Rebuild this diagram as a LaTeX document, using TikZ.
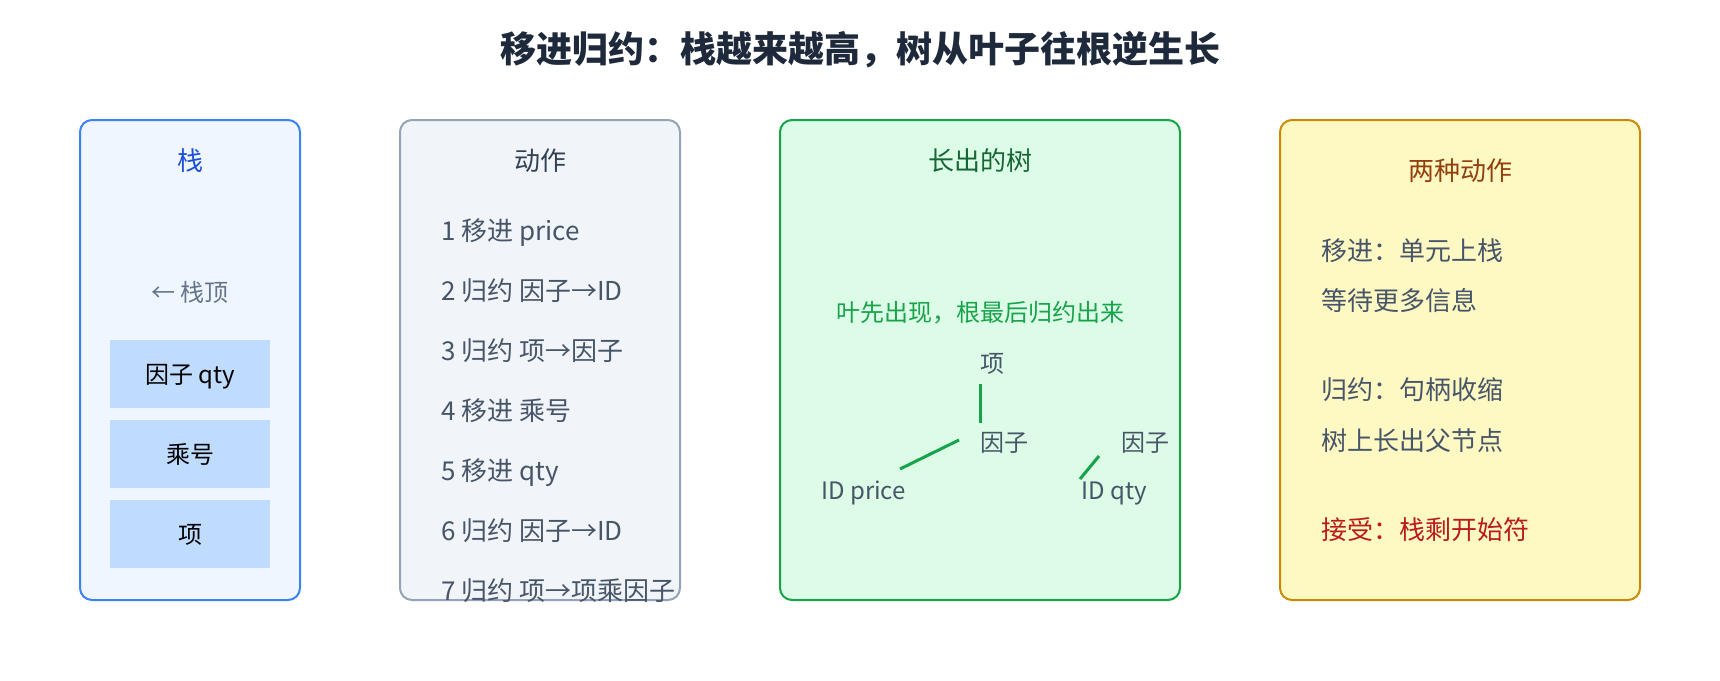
\documentclass[tikz,border=0pt]{standalone}
\usepackage{fontspec}
\setmainfont{Noto Sans CJK SC}

\definecolor{titleink}{HTML}{1E293B}
\definecolor{stackline}{HTML}{3B82F6}
\definecolor{stackfill}{HTML}{EFF6FF}
\definecolor{stackhead}{HTML}{1D4ED8}
\definecolor{cellfill}{HTML}{BFDBFE}
\definecolor{actline}{HTML}{94A3B8}
\definecolor{actfill}{HTML}{F1F5F9}
\definecolor{acthead}{HTML}{334155}
\definecolor{bodyink}{HTML}{475569}
\definecolor{mutedink}{HTML}{64748B}
\definecolor{treeline}{HTML}{16A34A}
\definecolor{treefill}{HTML}{DCFCE7}
\definecolor{treehead}{HTML}{166534}
\definecolor{kindline}{HTML}{CA8A04}
\definecolor{kindfill}{HTML}{FEF9C3}
\definecolor{kindhead}{HTML}{92400E}
\definecolor{acceptink}{HTML}{B91C1C}

\newcommand\rowgap{60}
\newcommand\cellgap{80}
\newcommand\bigfont{\fontsize{26pt}{30pt}\selectfont}
\newcommand\smallfont{\fontsize{24pt}{28pt}\selectfont}

\begin{document}
\begin{tikzpicture}[x=1pt,y=-1pt,
    panel/.style={line width=2pt,rounded corners=12pt},
    txt/.style={inner sep=0pt},
    big/.style={txt,font=\bigfont,text height=20.8pt,text depth=1pt},
    small/.style={txt,font=\smallfont,text height=19.2pt,text depth=1pt},
    head/.style={big},
    line/.style={big,text=bodyink,anchor=west},
    leaf/.style={small,text=bodyink,anchor=west},
    cellbox/.style={small,fill=cellfill,minimum width=160pt,minimum height=68pt},
    edge/.style={draw=treeline,line width=3pt}]
  \useasboundingbox (0,0) rectangle (1720,680);

  \node[txt,font=\fontsize{36pt}{40pt}\selectfont\bfseries,text height=28.8pt,text depth=1.4pt,text=titleink] (title) at (860,49) {移进归约：栈越来越高，树从叶子往根逆生长};

  % stack
  \draw[panel,draw=stackline,fill=stackfill] (80,120) rectangle (300,600);
  \node[head,text=stackhead] (stackhead) at (190,161) {栈};
  \node[small,text=mutedink] (top) at (190,292) {← 栈顶};
  \node[cellbox] (cellA) at (190,374) {因子 qty};
  \node[cellbox] (cellB) at (190,374+1*\cellgap) {乘号};
  \node[cellbox] (cellC) at (190,374+2*\cellgap) {项};

  % actions
  \draw[panel,draw=actline,fill=actfill] (400,120) rectangle (680,600);
  \node[head,text=acthead] (acthead) at (540,161) {动作};
  \node[line] (act1) at (441,231) {1 移进 price};
  \node[line] (act2) at (441,231+1*\rowgap) {2 归约 因子→ID};
  \node[line] (act3) at (441,231+2*\rowgap) {3 归约 项→因子};
  \node[line] (act4) at (441,231+3*\rowgap) {4 移进 乘号};
  \node[line] (act5) at (441,231+4*\rowgap) {5 移进 qty};
  \node[line] (act6) at (441,231+5*\rowgap) {6 归约 因子→ID};
  \node[line] (act7) at (441,231+6*\rowgap) {7 归约 项→项乘因子};

  % tree
  \draw[panel,draw=treeline,fill=treefill] (780,120) rectangle (1180,600);
  \node[head,text=treehead] (treehead) at (980,161) {长出的树};
  \node[small,text=treeline] (treenote) at (980,312) {叶先出现，根最后归约出来};
  \node[leaf] (term) at (980,363) {项};
  \node[leaf] (facL) at (980,442) {因子};
  \node[leaf] (facR) at (1121,442) {因子};
  \node[leaf] (idPrice) at (821,490) {ID price};
  \node[leaf] (idQty) at (1081,490) {ID qty};
  \draw[edge] ([yshift=-11pt]term.south west) -- ([yshift=9pt]facL.north west);
  \draw[edge] ([xshift=-21pt,yshift=2pt]facL.west) -- ([xshift=79pt,yshift=21pt]idPrice.west);
  \draw[edge] ([xshift=-22pt,yshift=-14pt]facR.west) -- ([xshift=-1pt,yshift=11pt]idQty.west);

  % two kinds
  \draw[panel,draw=kindline,fill=kindfill] (1280,120) rectangle (1640,600);
  \node[head,text=kindhead] (kindhead) at (1460,171) {两种动作};
  \node[line] (shiftA) at (1321,251) {移进：单元上栈};
  \node[line] (shiftB) at (1321,301) {等待更多信息};
  \node[line] (reduceA) at (1321,390) {归约：句柄收缩};
  \node[line] (reduceB) at (1321,441) {树上长出父节点};
  \node[line,text=acceptink] (accept) at (1321,530) {接受：栈剩开始符};
\end{tikzpicture}
\end{document}
